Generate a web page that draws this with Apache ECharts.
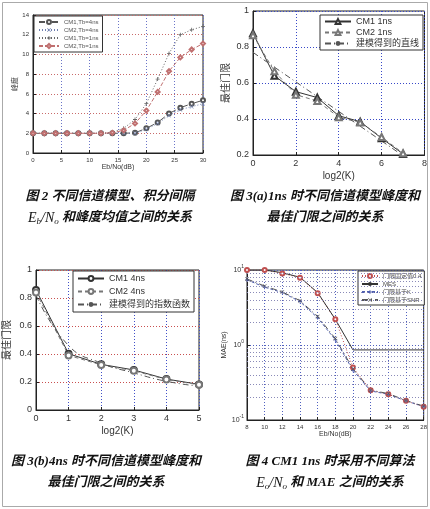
<!DOCTYPE html>
<html><head><meta charset="utf-8">
<script src="https://cdn.jsdelivr.net/npm/echarts@6/dist/echarts.min.js"></script>
<style>html,body{margin:0;padding:0;background:#fff}#c{width:430px;height:509px}</style>
</head><body><div id="c"></div>
<script>
// ---------- Fig 2: kurtosis mean vs Eb/No ----------
const fig2X = [0,2,4,6,8,10,12,14,16,18,20,22,24,26,28,30];
const fig2CM1Tb4 = [2,2,2,2,2,2,2,2,2,2.05,2.5,3.1,4.0,4.6,5.0,5.35];
const fig2CM2Tb4 = [2,2,2,2,2,2,2,2,2,2.0,2.4,3.0,3.8,4.4,4.7,5.0];
const fig2CM1Tb1 = [2,2,2,2,2,2,2,2.1,2.5,3.4,5.0,7.5,10.1,12.0,12.5,12.85];
const fig2CM2Tb1 = [2,2,2,2,2,2,2,2.05,2.3,3.0,4.3,6.2,8.3,9.7,10.5,11.1];
const fig2Names = ['CM1,Tb=4ns','CM2,Tb=4ns','CM1,Tb=1ns','CM2,Tb=1ns'];

// ---------- Fig 3(a): 1ns ----------
const fig3aX = [0,1,2,3,4,5,6,7];
const fig3aCM1 = [0.876,0.64,0.552,0.519,0.418,0.385,0.293,0.206];
const fig3aCM2 = [0.865,0.665,0.535,0.50,0.41,0.38,0.30,0.21];
const fig3aFitX = [0,7];
const fig3aFit = [0.77,0.196];
const fig3aNames = ['CM1 1ns','CM2 1ns','建模得到的直线'];

// ---------- Fig 3(b): 4ns ----------
const fig3bX = [0,1,2,3,4,5];
const fig3bCM1 = [0.857,0.402,0.326,0.286,0.221,0.183];
const fig3bCM2 = [0.84,0.39,0.322,0.28,0.218,0.18];
const fig3bFit = [0.82,0.46,0.335,0.265,0.205,0.17];
const fig3bNames = ['CM1 4ns','CM2 4ns','建模得到的指数函数'];

// ---------- Fig 4: MAE vs Eb/No ----------
const fig4X = [8,10,12,14,16,18,20,22,24,26,28];
const fig4Fixed = [10,10,9.0,7.9,4.9,2.2,0.5,0.25,0.22,0.18,0.15];
const fig4MES = [10,10,9.2,8.0,5.0,2.2,0.86,0.86,0.86,0.86,0.86];
const fig4K = [7.4,5.9,5.0,3.8,2.3,1.17,0.46,0.244,0.22,0.18,0.151];
const fig4SNR = [7.6,6.1,5.1,3.9,2.4,1.22,0.48,0.25,0.225,0.182,0.153];
const fig4Names = ['门限固定值0.4','MES','门限基于K','门限基于SNR'];
const fig4MinorTicks = [0.2,0.3,0.4,0.5,0.6,0.7,0.8,0.9,2,3,4,5,6,7,8,9];

const pairs = (xs, ys) => xs.map((x, i) => [x, ys[i]]);
const PLUS = 'path://M4,0h2v10h-2zM0,4h10v2h-10z';
const CROSS = 'path://M1,0L5,4L9,0L10,1L6,5L10,9L9,10L5,6L1,10L0,9L4,5L0,1z';
const DASHDOT = [6,3,1,3];

const chart = echarts.init(document.getElementById('c'), null, {renderer:'canvas'});

function grid(l,t,w,h){return {left:l,top:t,width:w,height:h,show:true,borderColor:'#222',borderWidth:1,backgroundColor:'transparent'};}
function vAxis(gi, min, max, interval, fs, name, gap, splitColor, extra){
  return Object.assign({type:'value',gridIndex:gi,min,max,interval,
    name, nameLocation:'middle', nameGap:gap, nameTextStyle:{fontSize:fs+1,color:'#333',fontFamily:'Liberation Sans, Noto Sans CJK SC'},
    axisLine:{show:true,lineStyle:{color:'#222'}},
    axisTick:{show:true,inside:true,length:3,lineStyle:{color:'#222'}},
    axisLabel:{fontSize:fs,color:'#333',margin:4,fontFamily:'Liberation Sans'},
    splitLine:{show:true,lineStyle:{type:[1,2],color:splitColor,width:1}}}, extra||{});
}
const legendItemStyle = {borderWidth:1};

const option = {
  animation:false,
  backgroundColor:'#fff',
  grid:[grid(33,15,170,138), grid(253,11,174,144), grid(36,270,163,140), grid(247,270,177,150)],
  xAxis:[
    vAxis(0,0,30,5,6,'Eb/No(dB)',9,'#6a74c8'),
    vAxis(1,0,8,2,9,'log2(K)',16,'#3848c8'),
    vAxis(2,0,5,1,9,'log2(K)',16,'#4050c8'),
    vAxis(3,8,28,2,6,'Eb/No(dB)',11,'#5060c0')
  ],
  yAxis:[
    vAxis(0,0,14,2,6,'峰度',12,'#c86a6a'),
    vAxis(1,0.2,1,0.2,9,'最佳门限',22,'#3848c8'),
    vAxis(2,0,1,0.2,9,'最佳门限',24,'#c85050'),
    {type:'log',gridIndex:3,min:0.1,max:10,logBase:10,
      name:'MAE(ns)',nameLocation:'middle',nameGap:14,nameTextStyle:{fontSize:7,color:'#333'},
      axisLine:{show:true,lineStyle:{color:'#222'}},
      axisTick:{show:true,inside:true,length:3,lineStyle:{color:'#222'}},
      axisLabel:{margin:3,color:'#333',formatter:function(v){const e=Math.round(Math.log10(v));return '{b|10}{s|'+e+'}';},
        rich:{b:{fontSize:7,color:'#333'},s:{fontSize:5,color:'#333',verticalAlign:'top',padding:[0,0,6,0]}}},
      splitLine:{show:true,lineStyle:{type:[1,2],color:'#5060c0'}}}
  ],
  legend:[
    {data:fig2Names,left:34,top:16,orient:'vertical',backgroundColor:'#fff',borderColor:'#333',borderWidth:1,
      padding:[3,4],itemGap:2,itemWidth:20,itemHeight:5,itemStyle:legendItemStyle,textStyle:{fontSize:6,color:'#555'}},
    {data:fig3aNames,left:320,top:15,orient:'vertical',backgroundColor:'#fff',borderColor:'#333',borderWidth:1,
      padding:[2,4],itemGap:2,itemWidth:26,itemHeight:6,itemStyle:legendItemStyle,textStyle:{fontSize:9,color:'#333',fontFamily:'Liberation Sans, Noto Sans CJK SC'}},
    {data:fig3bNames,left:73,top:271,orient:'vertical',backgroundColor:'#fff',borderColor:'#333',borderWidth:1,
      padding:[3,4],itemGap:4,itemWidth:26,itemHeight:6,itemStyle:legendItemStyle,textStyle:{fontSize:9,color:'#333',fontFamily:'Liberation Sans, Noto Sans CJK SC'}},
    {data:fig4Names,left:358,top:271,orient:'vertical',backgroundColor:'#fff',borderColor:'#333',borderWidth:1,
      padding:[2,3],itemGap:2,itemWidth:16,itemHeight:5,itemStyle:legendItemStyle,textStyle:{fontSize:6,color:'#444',fontFamily:'Liberation Sans, Noto Sans CJK SC'}}
  ],
  series:[
    {name:fig2Names[0],type:'line',xAxisIndex:0,yAxisIndex:0,data:pairs(fig2X,fig2CM1Tb4),symbol:'emptyCircle',symbolSize:4,
      lineStyle:{type:DASHDOT,width:1,color:'#555'},itemStyle:{color:'#555'}},
    {name:fig2Names[1],type:'line',xAxisIndex:0,yAxisIndex:0,data:pairs(fig2X,fig2CM2Tb4),symbol:CROSS,symbolSize:4,
      lineStyle:{type:[1,2],width:1,color:'#7080b0'},itemStyle:{color:'#7080b0'}},
    {name:fig2Names[2],type:'line',xAxisIndex:0,yAxisIndex:0,data:pairs(fig2X,fig2CM1Tb1),symbol:PLUS,symbolSize:4,
      lineStyle:{type:[1,2],width:1,color:'#666'},itemStyle:{color:'#666'}},
    {name:fig2Names[3],type:'line',xAxisIndex:0,yAxisIndex:0,data:pairs(fig2X,fig2CM2Tb1),symbol:'emptyDiamond',symbolSize:4,
      lineStyle:{type:[4,2],width:1,color:'#c07070'},itemStyle:{color:'#c07070'}},

    {name:fig3aNames[0],type:'line',xAxisIndex:1,yAxisIndex:1,data:pairs(fig3aX,fig3aCM1),symbol:'emptyTriangle',symbolSize:6,
      lineStyle:{width:1,color:'#333'},itemStyle:{color:'#333'}},
    {name:fig3aNames[1],type:'line',xAxisIndex:1,yAxisIndex:1,data:pairs(fig3aX,fig3aCM2),symbol:'emptyTriangle',symbolSize:6,
      lineStyle:{type:[4,3],width:1,color:'#777'},itemStyle:{color:'#777'}},
    {name:fig3aNames[2],type:'line',xAxisIndex:1,yAxisIndex:1,data:pairs(fig3aFitX,fig3aFit),symbol:'none',
      lineStyle:{type:DASHDOT,width:1,color:'#555'},itemStyle:{color:'#555'}},

    {name:fig3bNames[0],type:'line',xAxisIndex:2,yAxisIndex:2,data:pairs(fig3bX,fig3bCM1),symbol:'emptyCircle',symbolSize:6,
      lineStyle:{width:1,color:'#333'},itemStyle:{color:'#333'}},
    {name:fig3bNames[1],type:'line',xAxisIndex:2,yAxisIndex:2,data:pairs(fig3bX,fig3bCM2),symbol:'emptyCircle',symbolSize:6,
      lineStyle:{type:[4,3],width:1,color:'#777'},itemStyle:{color:'#777'}},
    {name:fig3bNames[2],type:'line',xAxisIndex:2,yAxisIndex:2,data:pairs(fig3bX,fig3bFit),symbol:'none',smooth:true,
      lineStyle:{type:DASHDOT,width:1,color:'#555'},itemStyle:{color:'#555'}},

    {name:fig4Names[0],type:'line',xAxisIndex:3,yAxisIndex:3,data:pairs(fig4X,fig4Fixed),symbol:'emptyCircle',symbolSize:4,
      lineStyle:{type:[1,2],width:1,color:'#c05050'},itemStyle:{color:'#c05050'},
      markLine:{silent:true,symbol:'none',label:{show:false},lineStyle:{type:[1,2],color:'#8a8ab8',width:1},
        data:fig4MinorTicks.map(v=>({yAxis:v}))}},
    {name:fig4Names[1],type:'line',xAxisIndex:3,yAxisIndex:3,data:pairs(fig4X,fig4MES),symbol:'none',
      lineStyle:{width:1,color:'#333'},itemStyle:{color:'#333'}},
    {name:fig4Names[2],type:'line',xAxisIndex:3,yAxisIndex:3,data:pairs(fig4X,fig4K),symbol:PLUS,symbolSize:4,
      lineStyle:{type:[3,2],width:1,color:'#5060b0'},itemStyle:{color:'#5060b0'}},
    {name:fig4Names[3],type:'line',xAxisIndex:3,yAxisIndex:3,data:pairs(fig4X,fig4SNR),symbol:CROSS,symbolSize:4,
      lineStyle:{type:DASHDOT,width:1,color:'#555'},itemStyle:{color:'#555'}}
  ],
  graphic:[
    {type:'rect',shape:{x:2.5,y:2.5,width:425,height:504},style:{fill:'none',stroke:'#aaa',lineWidth:1},silent:true},
    cap(110,197,'图 2 不同信道模型、积分间隔'),
    capRich(110,218,'{i|E}{s|b}{i|/N}{s|o}{c| 和峰度均值之间的关系}'),
    cap(325,197,'图 3(a)1ns 时不同信道模型峰度和'),
    cap(325,218,'最佳门限之间的关系'),
    cap(106,462,'图 3(b)4ns 时不同信道模型峰度和'),
    cap(106,483,'最佳门限之间的关系'),
    cap(330,462,'图 4 CM1 1ns 时采用不同算法'),
    capRich(330,483,'{i|E}{s|o}{i|/N}{s|o}{c| 和 MAE 之间的关系}')
  ]
};

function cap(x,y,t){
  return {type:'text',x,y,silent:true,style:{text:t,align:'center',verticalAlign:'middle',fill:'#111',
    fontSize:13,fontStyle:'italic',fontWeight:'bold',fontFamily:'Liberation Serif, Noto Sans CJK SC'}};
}
function capRich(x,y,t){
  return {type:'text',x,y,silent:true,style:{text:t,align:'center',verticalAlign:'middle',fill:'#111',
    fontSize:13,fontStyle:'italic',fontFamily:'Liberation Serif, Noto Sans CJK SC',
    rich:{i:{fontSize:14,fontStyle:'italic',fontFamily:'Liberation Serif',fill:'#111'},
          s:{fontSize:9,fontStyle:'italic',fontFamily:'Liberation Serif',fill:'#111',verticalAlign:'bottom',padding:[8,0,0,0]},
          c:{fontSize:13,fontStyle:'italic',fontWeight:'bold',fontFamily:'Liberation Serif, Noto Sans CJK SC',fill:'#111'}}}};
}
chart.setOption(option);
</script></body></html>
